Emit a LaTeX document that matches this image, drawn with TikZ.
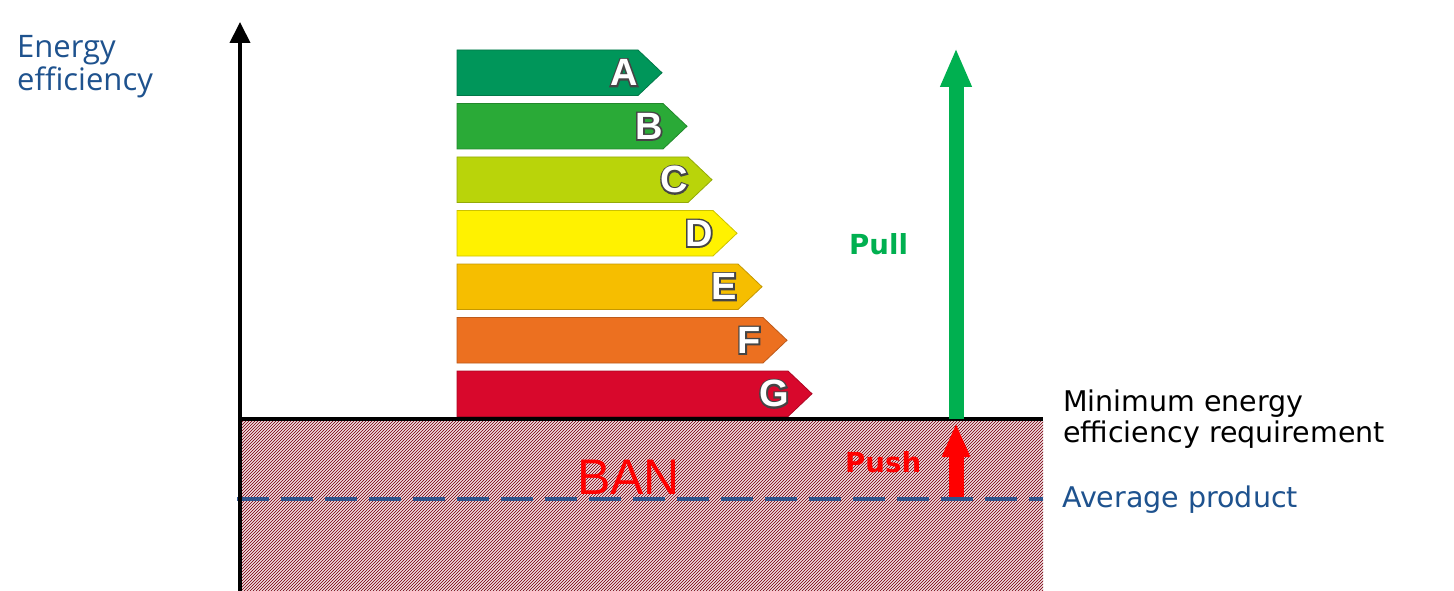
\documentclass[tikz,border=0pt]{standalone}
\usepackage{fontspec}
\usetikzlibrary{arrows.meta}
\newfontfamily\osans{Open Sans}
\newfontfamily\dvsans{DejaVu Sans}
\newfontfamily\lsans{Liberation Sans}
\definecolor{txtblue}{RGB}{30,82,142}
\definecolor{dashblue}{RGB}{46,84,140}
\definecolor{hatchred}{RGB}{140,28,42}
\definecolor{pullgreen}{RGB}{0,176,80}
\definecolor{pushred}{RGB}{255,0,0}
\definecolor{enA}{RGB}{0,150,90}
\definecolor{enB}{RGB}{42,170,55}
\definecolor{enC}{RGB}{185,212,10}
\definecolor{enD}{RGB}{255,242,0}
\definecolor{enE}{RGB}{246,190,0}
\definecolor{enF}{RGB}{236,112,32}
\definecolor{enG}{RGB}{216,8,44}
% white letter on a wide dark stroked copy (PDF text render mode 1 = stroke only)
\newcommand\outl[1]{\rlap{\special{pdf:literal direct 1 Tr 3.2 w 0.27 0.27 0.27 RG}#1\special{pdf:literal direct 0 Tr 0.4 w}}\textcolor{white}{#1}}
\tikzset{
  hatchline/.style={draw=hatchred, line width=0.8pt},
  axisline/.style={draw=black, line width=4pt, -{Triangle[width=20pt,length=21pt]}},
  minline/.style={draw=black, line width=4pt},
  avgline/.style={draw=dashblue, line width=4pt, dash pattern=on 32pt off 12pt},
  pullarrow/.style={draw=pullgreen, line width=15pt, -{Triangle[width=29pt,length=39pt]}},
  pusharrow/.style={draw=pushred, line width=15pt, -{Triangle[width=26pt,length=34pt]}},
  ltr/.style={inner sep=0pt, font=\lsans\bfseries\fontsize{38}{38}\selectfont},
  bluetxt/.style={inner sep=0pt, text=txtblue},
}
\begin{document}
\begin{tikzpicture}[x=1pt,y=-1pt]
\useasboundingbox (0,0) rectangle (1454,591);
\fill[white] (0,0) rectangle (1454,591);

% banned (hatched) region
\begin{scope}
  \clip (242,421) rectangle (1043,591);
  \foreach \i in {0,...,330}{\draw[hatchline] ({68+3*\i},593) -- ++(174,-174);}
\end{scope}

\node[inner sep=0pt, anchor=base west, text=pushred, font=\lsans\fontsize{50}{50}\selectfont] (ban) at (577,494) {BAN};

% average product line
\coordinate (avgL) at (237,499);
\coordinate (avgR) at (1043,499);
\draw[avgline] (avgL) -- (avgR);

% axes
\coordinate (origin) at (240,591);
\coordinate (ytip) at (240,22);
\coordinate (minL) at (238,419);
\coordinate (minR) at (1043,419);
\draw[minline] (minL) -- (minR);
\draw[axisline] (origin) -- (ytip);

% energy label bars
\foreach \L/\c [count=\i from 0] in {A/enA,B/enB,C/enC,D/enD,E/enE,F/enF,G/enG}{
  \pgfmathsetmacro\bt{50+53.5*\i}
  \pgfmathsetmacro\bx{662+25*\i}
  \fill[\c, draw=\c!80!black, line width=0.8pt] (457,\bt) -- ({\bx-24},\bt) -- (\bx,{\bt+22.75}) -- ({\bx-24},{\bt+45.5}) -- (457,{\bt+45.5}) -- cycle;
  \node[ltr] (lbl\L) at ({\bx-38},{\bt+22.75}) {\outl{\L}};
}

% pull / push arrows
\coordinate (pullS) at (956,419);
\coordinate (pullT) at (956,48);
\draw[pullarrow] (pullS) -- (pullT);
\coordinate (pushS) at (956,497);
\coordinate (pushT) at (956,423);
\draw[pusharrow] (pushS) -- (pushT);

\node[inner sep=0pt, anchor=base west, text=pullgreen, font=\dvsans\bfseries\fontsize{27.6}{30}\selectfont] (pull) at (849,254) {Pull};
\node[inner sep=0pt, anchor=base west, text=pushred, font=\dvsans\bfseries\fontsize{27.6}{30}\selectfont] (push) at (845,472) {Push};

% texts
\node[bluetxt, anchor=north west, align=left, font=\osans\fontsize{31}{33}\selectfont] (ylab) at (17,35) {Energy\\efficiency};
\node[inner sep=0pt, anchor=north west, align=left, font=\dvsans\fontsize{28.5}{31}\selectfont] (minlab) at (1063,390) {Minimum energy\\efficiency requirement};
\node[bluetxt, anchor=base west, font=\dvsans\fontsize{28.5}{31}\selectfont] (avglab) at (1062,507) {Average product};
\end{tikzpicture}
\end{document}
